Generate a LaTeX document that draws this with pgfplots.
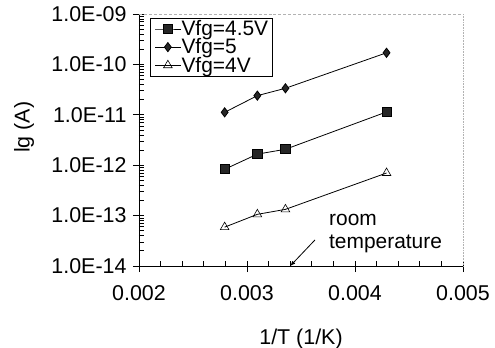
\documentclass[border=0pt]{standalone}
\usepackage{fontspec}
\setmainfont{Liberation Sans}
\usepackage{pgfplots}
\pgfplotsset{compat=1.18}
\begin{document}
\begin{tikzpicture}
\path[use as bounding box] (-139bp,-82bp) rectangle (356bp,266bp);
\begin{axis}[
  at={(0,0)}, anchor=south west,
  width=324bp, height=252bp, scale only axis,
  clip=false,
  ymode=log,
  xmin=0.002, xmax=0.005, ymin=1e-14, ymax=1e-9,
  xtick={0.002,0.003,0.004,0.005},
  xticklabels={0.002,0.003,0.004,0.005},
  scaled x ticks=false,
  ytick={1e-14,1e-13,1e-12,1e-11,1e-10,1e-9},
  yticklabels={1.0E-14,1.0E-13,1.0E-12,1.0E-11,1.0E-10,1.0E-09},
  minor x tick num=4,
  axis x line*=bottom, axis y line*=left,
  axis line style={-, black, line width=0.8pt},
  tick align=inside,
  major tick length=5bp, minor tick length=5bp,
  tick style={black, line width=0.7pt},
  extra x ticks={0.002,0.003,0.004,0.005},
  extra x tick labels={},
  extra y ticks={1e-14,1e-13,1e-12,1e-11,1e-10,1e-9},
  extra y tick labels={},
  extra tick style={tick align=outside, major tick length=6bp},
  tick label style={font=\fontsize{21.5}{24}\selectfont},
  xticklabel style={yshift=-16bp},
  yticklabel style={xshift=-9bp},
  xlabel={1/T (1/K)},
  ylabel={lg (A)},
  label style={font=\fontsize{21.5}{24}\selectfont},
  xlabel style={at={(axis description cs:0.5,-0.29)}, anchor=center},
  ylabel style={at={(axis description cs:-0.355,0.55)}, anchor=center},
  legend style={at={(rel axis cs:0.035,0.985)}, anchor=north west,
    draw=black, line width=0.8pt, font=\fontsize{21}{21}\selectfont,
    inner xsep=4pt, inner ysep=2pt, row sep=0.5pt, nodes={inner sep=0.5pt}, cells={anchor=west}},
  legend image code/.code={\draw[mark repeat=2,mark phase=2] plot coordinates {(0cm,0cm) (0.45cm,0cm) (0.9cm,0cm)};},
  every axis plot/.append style={black, line width=0.8pt},
]
\addplot[mark=square*, mark size=4.6bp, mark options={fill=black!85}] coordinates {
  (0.002793,8.3e-13) (0.003096,1.66e-12) (0.003356,2.07e-12) (0.004292,1.14e-11)};
\addlegendentry{Vfg=4.5V}
\addplot[mark=diamond*, mark size=4.6bp, mark options={fill=black!85}] coordinates {
  (0.002793,1.12e-11) (0.003096,2.4e-11) (0.003356,3.36e-11) (0.004292,1.7e-10)};
\addlegendentry{Vfg=5}
\addplot[mark=triangle, mark size=5bp, mark options={fill=white, line width=0.6pt}] coordinates {
  (0.002793,5.9e-14) (0.003096,1.06e-13) (0.003356,1.33e-13) (0.004292,7.0e-13)};
\addlegendentry{Vfg=4V}
\draw[gray!60, densely dashed, line width=0.6pt] (rel axis cs:0,1) -- (rel axis cs:1,1);
\draw[gray!60, densely dotted, line width=0.6pt] (rel axis cs:1,1) -- (rel axis cs:1,0);
\node[anchor=west, align=left, font=\fontsize{21}{24}\selectfont, inner sep=0pt] at (axis cs:0.003759,4.4e-14) {room\\temperature};
\draw[-latex, line width=0.8pt] (axis cs:0.00363,3.3e-14) -- (axis cs:0.0034,1e-14);
\end{axis}
\end{tikzpicture}
\end{document}
